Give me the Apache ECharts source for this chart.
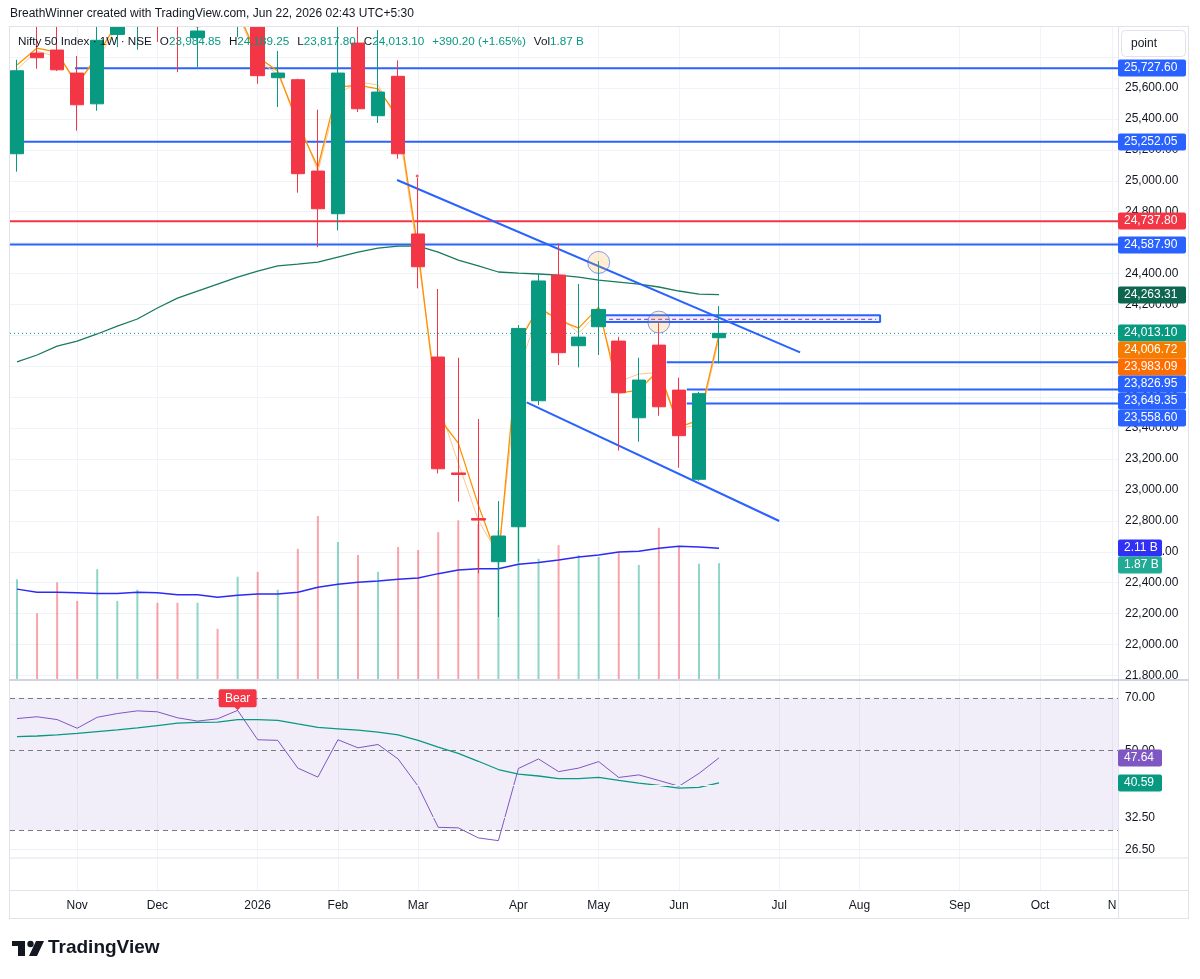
<!DOCTYPE html>
<html><head><meta charset="utf-8">
<script src="https://cdn.jsdelivr.net/npm/echarts@6/dist/echarts.min.js"></script>
<style>html,body{margin:0;padding:0;background:#fff}#c{width:1200px;height:979px}</style>
</head><body><div id="c"></div>
<script>
// ---------- DATA ----------
const weeks = ['2025-10-13','2025-10-20','2025-10-27','2025-11-03','2025-11-10','2025-11-17','2025-11-24','2025-12-01','2025-12-08','2025-12-15','2025-12-22','2025-12-29','2026-01-05','2026-01-12','2026-01-19','2026-01-26','2026-02-02','2026-02-09','2026-02-16','2026-02-23','2026-03-02','2026-03-09','2026-03-16','2026-03-23','2026-03-30','2026-04-06','2026-04-13','2026-04-20','2026-04-27','2026-05-04','2026-05-11','2026-05-18','2026-05-25','2026-06-01','2026-06-08','2026-06-15'];
const open  = [25175,25826,25846,25697,25498,25947,26000,26150,26080,25926,26150,26060,26050,25667,25654,25063,24787,25891,25421,25676,24656,23860,23110,22815,22536,22762,23577,24390,23933,24056,23963,23467,23937,23646,23069,23984.85];
const high  = [25783,26010,26000,25807,26050,26150,26200,26250,26200,26050,26250,26250,26150,25840,25660,25460,26000,26020,25975,25779,25018,24300,23855,23459,22928,24067,24395,24595,24332,24481,23991,23855,24082,23726,23635,24189.25];
const low   = [25059,25725,25710,25324,25453,25865,25848,25898,25703,25736,26010,25930,25628,25477,24923,24571,24679,25445,25374,25143,24304,23107,22924,22461,22178,22536,23549,23808,23793,23873,23254,23312,23480,23144,23060,23817.80];
const close = [25712,25796,25718,25492,25909,26080,26100,26050,26020,25969,26080,26150,25680,25697,25046,24819,25697,25466,25574,25175,24444,23137,23100,22805,22702,24045,24352,23888,23989,24168,23629,23711,23538,23351,23622.90,24013.10];
const volumeB = [1.61,1.06,1.56,1.26,1.77,1.26,1.44,1.23,1.23,1.23,0.81,1.65,1.73,1.44,2.10,2.63,2.21,2.00,1.73,2.13,2.08,2.37,2.56,2.50,2.40,2.50,1.94,2.16,2.00,1.97,2.05,1.84,2.44,2.13,1.86,1.87];
const volumeMA = [1.45,1.40,1.40,1.39,1.38,1.38,1.40,1.39,1.36,1.36,1.32,1.35,1.37,1.37,1.40,1.48,1.53,1.56,1.58,1.61,1.63,1.70,1.76,1.78,1.78,1.85,1.88,1.92,1.97,2.00,2.05,2.06,2.11,2.14,2.13,2.11];
const slowMA = [23828,23873,23931,23963,24009,24060,24106,24177,24241,24287,24332,24377,24416,24449,24461,24474,24507,24539,24565,24578,24578,24539,24487,24449,24410,24403,24397,24390,24377,24358,24345,24332,24313,24287,24267,24263.31];
const fastA = [25749,25859,25833,25619,25813,26020,26060,26100,26060,26000,26080,26100,25800,25710,25367,25089,25606,25619,25594,25412,24552,23472,23303,22902,22547,23950,24183,24099,24047,24183,23627,23646,23776,23407,23452,24006.72];
const fastB = [25720,25840,25800,25650,25780,26000,26040,26080,26050,25990,26060,26080,25780,25690,25400,25060,25560,25640,25620,25380,24500,23560,23174,22805,22579,23776,24144,24130,24015,24150,23700,23750,23760,23400,23420,23983.09];
const rsi   = [61.3,62.0,60.9,57.6,61.8,63.3,64.4,64.0,61.6,60.3,61.2,64.6,53.5,53.3,44.6,42.1,53.5,50.8,51.9,47.3,39.7,30.5,30.4,28.5,28.0,44.5,47.3,43.6,44.6,46.5,42.0,42.7,41.2,39.7,43.1,47.64];
const rsiMA = [54.6,54.8,55.2,55.7,56.4,57.0,57.7,58.6,59.5,59.8,59.9,60.9,60.9,60.6,59.2,57.9,57.4,56.9,56.2,55.2,53.3,51.0,49.0,46.6,44.2,42.9,42.4,41.7,41.7,42.0,41.2,40.5,39.9,39.2,39.4,40.59];
const monthTicks  = [3,7,12,16,20,25,29,33,38,42,47,51,54.6];
const monthLabels = ['Nov','Dec','2026','Feb','Mar','Apr','May','Jun','Jul','Aug','Sep','Oct','N'];
const priceTicks = [21800,22000,22200,22400,22600,22800,23000,23200,23400,23600,23800,24000,24200,24400,24600,24800,25000,25200,25400,25600,25800];
const priceLabelTicks = [21800,22000,22200,22400,22600,22800,23000,23200,23400,23600,23800,24000,24200,24400,24600,24800,25000,25200,25400,25600];
const rsiTicks = [26.5,32.5,40,50,70];
const rsiBands = [30,50,70];
// drawings (anchors in week-index / price space)
const levels = [
  {value:25727.60, start:2.89,  color:'#2962FF'},
  {value:25252.05, start:null,  color:'#2962FF'},
  {value:24737.80, start:null,  color:'#F23645'},
  {value:24587.90, start:null,  color:'#2962FF'},
  {value:23826.95, start:32.39, color:'#2962FF'},
  {value:23649.35, start:33.39, color:'#2962FF'},
  {value:23558.60, start:33.39, color:'#2962FF'}
];
const trendUpper = [[18.95,25005],[39.04,23890]];
const trendLower = [[25.41,23567],[38.0,22799]];
const boxX = [29.32,43.03];
const boxY = [24086,24131];
const boxMid = 24104;
const circles = [[29,24472],[32,24086]];
const signalDots = [[19.95,25031]];
const bearIndex = 11;

// ---------- LAYOUT ----------
const XMIN = -0.349, XMAX = 54.89;
const FONT = 'Liberation Sans, Arial, sans-serif';
const TEAL = '#089981', RED = '#F23645', BLUE = '#2962FF', DARK = '#131722';
const fmt = v => v.toLocaleString('en-US',{minimumFractionDigits:2,maximumFractionDigits:2});
const N = weeks.length;
const idx = weeks.map((_,i)=>i);

const chart = echarts.init(document.getElementById('c'), null, {renderer:'canvas'});

function xAxisCfg(grid, showLabel){
  return {type:'value', gridIndex:grid, min:XMIN, max:XMAX,
    axisLine:{show: showLabel, lineStyle:{color:'#E0E3EB'}},
    axisTick:{show:false, customValues:monthTicks},
    splitLine:{show:true, lineStyle:{color:'#F0F3FA', width:1}},
    axisLabel:{show:showLabel, customValues:monthTicks, color:DARK, fontSize:12, fontFamily:FONT, margin:10,
      formatter:v=>{const k=monthTicks.findIndex(t=>Math.abs(t-v)<1e-6);return k>=0?monthLabels[k]:'';}}};
}

const lineS = (name, data, color, width, z, extra) => Object.assign({
  name, type:'line', data, symbol:'none', showSymbol:false, silent:true, z,
  lineStyle:{color, width}, itemStyle:{color}, clip:true
}, extra||{});

const series = [];
series.push({type:'bar', xAxisIndex:0, yAxisIndex:1, barWidth:2, z:1, silent:true,
  data: idx.map(i=>({value:[i, volumeB[i]], itemStyle:{color: close[i]>=open[i] ? 'rgba(34,171,148,0.5)' : 'rgba(242,54,69,0.45)'}}))});
series.push(lineS('volMA', idx.map(i=>[i,volumeMA[i]]), '#2B2BF5', 1.5, 2, {xAxisIndex:0,yAxisIndex:1}));
levels.forEach(l=>{
  series.push(lineS('lvl', [[l.start==null?XMIN:l.start, l.value],[XMAX, l.value]], l.color, 2, 2, {xAxisIndex:0,yAxisIndex:0}));
});
series.push(lineS('last', [[XMIN, close[N-1]],[XMAX, close[N-1]]], TEAL, 1, 2, {xAxisIndex:0,yAxisIndex:0, lineStyle:{color:TEAL,width:1,type:[1,3]}}));
series.push(lineS('box', [[boxX[0],boxY[1]],[boxX[1],boxY[1]],[boxX[1],boxY[0]],[boxX[0],boxY[0]],[boxX[0],boxY[1]]], BLUE, 2, 2,
  {xAxisIndex:0,yAxisIndex:0, markArea:{silent:true, itemStyle:{color:'rgba(41,98,255,0.08)'}, data:[[{coord:[boxX[0],boxY[1]]},{coord:[boxX[1],boxY[0]]}]]}}));
series.push(lineS('boxMid', [[boxX[0]+0.2,boxMid],[boxX[1]-0.2,boxMid]], '#9C27B0', 1, 2, {xAxisIndex:0,yAxisIndex:0, lineStyle:{color:'#9C27B0',width:1,type:[4,3]}}));
series.push(lineS('slowMA', idx.map(i=>[i,slowMA[i]]), '#197A5E', 1.3, 2, {xAxisIndex:0,yAxisIndex:0}));
series.push(lineS('fastB', idx.map(i=>[i,fastB[i]]), '#FFC58A', 1, 2, {xAxisIndex:0,yAxisIndex:0}));
series.push(lineS('fastA', idx.map(i=>[i,fastA[i]]), '#FF9100', 1.3, 2, {xAxisIndex:0,yAxisIndex:0}));
series.push(lineS('tu', trendUpper, BLUE, 2, 2, {xAxisIndex:0,yAxisIndex:0}));
series.push(lineS('tl', trendLower, BLUE, 2, 2, {xAxisIndex:0,yAxisIndex:0}));
series.push({type:'candlestick', xAxisIndex:0, yAxisIndex:0, barWidth:14, z:3, silent:true, clip:true,
  data: idx.map(i=>[i, open[i], close[i], low[i], high[i]]),
  itemStyle:{color:TEAL, color0:RED, borderColor:TEAL, borderColor0:RED, borderWidth:1}});
series.push({type:'scatter', xAxisIndex:0, yAxisIndex:0, z:5, silent:true, symbolSize:22, data:circles,
  itemStyle:{color:'rgba(255,167,38,0.25)', borderColor:'rgba(41,98,255,0.75)', borderWidth:1}});
series.push({type:'scatter', xAxisIndex:0, yAxisIndex:0, z:5, silent:true, symbolSize:3, data:signalDots, itemStyle:{color:RED}});
series.push(lineS('rsi', idx.map(i=>[i,rsi[i]]), '#7E57C2', 1, 3, {xAxisIndex:1, yAxisIndex:2,
  markArea:{silent:true, itemStyle:{color:'rgba(126,87,194,0.1)'}, data:[[{yAxis:rsiBands[0]},{yAxis:rsiBands[2]}]]},
  markLine:{silent:true, symbol:['none','none'], animation:false,
    data: [
      ...rsiBands.map(b=>({yAxis:b, lineStyle:{color:'#787B86', width:1, type:[5,4]},
         label:{show: b!==30, position:'end', distance:7, formatter: fmt(b), color:DARK, fontSize:12, fontFamily:FONT}})),
      ...rsiTicks.filter(t=>rsiBands.indexOf(t)<0).map(t=>({yAxis:t, lineStyle:{color:'#EEF0F5', width:1, type:'solid'},
         label:{show:true, position:'end', distance:7, formatter: fmt(t), color:DARK, fontSize:12, fontFamily:FONT}}))
    ]},
  markPoint:{silent:true, data:[{coord:[bearIndex, rsi[bearIndex]], value:'Bear'}],
    symbol:'path://M2,0 H36 Q38,0 38,2 V16 Q38,18 36,18 H22 L19,21 L16,18 H2 Q0,18 0,16 V2 Q0,0 2,0 Z',
    symbolSize:[38,21], symbolOffset:[0,'-50%'], itemStyle:{color:RED},
    label:{show:true, formatter:'Bear', color:'#fff', fontSize:12, fontFamily:FONT, offset:[0,-1.5]}}
}));
series.push(lineS('rsiMA', idx.map(i=>[i,rsiMA[i]]), '#089981', 1.3, 3, {xAxisIndex:1, yAxisIndex:2}));

const option = {
  animation:false,
  backgroundColor:'#fff',
  grid:[
    {left:10, top:27, width:1108, height:652},
    {left:10, top:681, width:1108, height:177},
    {left:10, top:858, width:1108, height:32}
  ],
  xAxis:[xAxisCfg(0,false), xAxisCfg(1,false), xAxisCfg(2,true)],
  yAxis:[
    {type:'value', gridIndex:0, position:'right', min:21777, max:25995, scale:true,
      axisLine:{show:false}, axisTick:{show:false, customValues:priceTicks},
      splitLine:{show:true, lineStyle:{color:'#F0F3FA'}},
      axisLabel:{customValues:priceLabelTicks, formatter:v=>fmt(v), color:DARK, fontSize:12, fontFamily:FONT, margin:7}},
    {type:'value', gridIndex:0, min:0, max:10.52, show:false},
    {type:'log', gridIndex:1, logBase:10, min:25.05, max:78.0, show:false},
    {type:'value', gridIndex:2, min:0, max:1, show:false}
  ],
  series
};
chart.setOption(option);

// ---------- overlays ----------
const g = [];
g.push({type:'rect', z:55, silent:true, shape:{x:0,y:0,width:1200,height:26}, style:{fill:'#fff'}});
const frameColor = '#E0E3EB';
const hline = (y,x1,x2,c,w)=>({type:'line', z:56, silent:true, shape:{x1,y1:y,x2,y2:y}, style:{stroke:c||frameColor, lineWidth:w||1}});
const vline = (x,y1,y2,c)=>({type:'line', z:56, silent:true, shape:{x1:x,y1,x2:x,y2}, style:{stroke:c||frameColor, lineWidth:1}});
g.push(hline(26.5,9,1189), hline(918.5,9,1189), vline(9.5,27,918), vline(1188.5,27,918), vline(1118.5,27,918));
g.push(hline(680,9,1189,'#D1D4DC',2), hline(858,9,1189), hline(890.5,9,1189));
g.push({type:'text', z:60, x:10, y:14, style:{text:'BreathWinner created with TradingView.com, Jun 22, 2026 02:43 UTC+5:30', fill:DARK, font:'12px '+FONT, verticalAlign:'middle'}});
// legend (sequential layout)
const last = N-1, chg = close[last]-close[last-1], pct = chg/close[last-1]*100;
const LF = '11.7px '+FONT;
const mctx = document.createElement('canvas').getContext('2d'); mctx.font = LF;
const tw = s => mctx.measureText(s).width;
const legendParts = [
  [['Nifty 50 Index · 1W · NSE', DARK]],
  [['O', DARK],[fmt(open[last]), TEAL]],
  [['H', DARK],[fmt(high[last]), TEAL]],
  [['L', DARK],[fmt(low[last]), TEAL]],
  [['C', DARK],[fmt(close[last]), TEAL]],
  [[(chg>=0?'+':'')+fmt(chg)+' ('+(chg>=0?'+':'')+pct.toFixed(2)+'%)', TEAL]],
  [['Vol', DARK],[volumeB[last].toFixed(2)+' B', TEAL]]
];
let lx = 18;
legendParts.forEach(grp=>{
  grp.forEach(([s,c])=>{
    g.push({type:'text', z:60, x:lx, y:42, style:{text:s, fill:c, font:LF, verticalAlign:'middle'}});
    lx += tw(s);
  });
  lx += 8;
});
g.push({type:'rect', z:60, shape:{x:1121.5,y:30.5,width:64,height:26,r:4}, style:{fill:'#fff', stroke:'#E0E3EB', lineWidth:1}});
g.push({type:'text', z:61, x:1131, y:43.5, style:{text:'point', fill:DARK, font:'12px '+FONT, verticalAlign:'middle'}});
g.push({type:'rect', z:60, shape:{x:12,y:941,width:13,height:5}, style:{fill:DARK}});
g.push({type:'rect', z:60, shape:{x:18,y:941,width:7,height:15}, style:{fill:DARK}});
g.push({type:'circle', z:60, shape:{cx:30.5,cy:944,r:3.2}, style:{fill:DARK}});
g.push({type:'polygon', z:60, shape:{points:[[36,941],[44,941],[37,956],[29,956]]}, style:{fill:DARK}});
g.push({type:'text', z:60, x:48, y:948, style:{text:'TradingView', fill:DARK, font:'bold 19px '+FONT, verticalAlign:'middle'}});

function stackTags(tags, h){
  tags.sort((a,b)=>a.y-b.y);
  let prev = -1e9;
  tags.forEach(t=>{ if(t.y < prev + h) t.y = prev + h; prev = t.y; });
  return tags;
}
const px = (xi, yi, v) => chart.convertToPixel({xAxisIndex:xi, yAxisIndex:yi}, [last, v])[1];
const mainTags = [];
levels.slice(0,4).forEach(l=>mainTags.push({y:px(0,0,l.value), text:fmt(l.value), color:l.color, w:68}));
mainTags.push({y:px(0,0,slowMA[last]), text:fmt(slowMA[last]), color:'#0E6650', w:68});
mainTags.push({y:px(0,0,close[last]), text:fmt(close[last]), color:TEAL, w:68});
mainTags.push({y:px(0,0,fastA[last]), text:fmt(fastA[last]), color:'#F57C00', w:68});
mainTags.push({y:px(0,0,fastB[last]), text:fmt(fastB[last]), color:'#FF6D00', w:68});
levels.slice(4).forEach(l=>mainTags.push({y:px(0,0,l.value), text:fmt(l.value), color:l.color, w:68}));
mainTags.push({y:px(0,1,volumeMA[last]), text:volumeMA[last].toFixed(2)+' B', color:'#3131F5', w:44});
mainTags.push({y:px(0,1,volumeB[last]), text:volumeB[last].toFixed(2)+' B', color:'#22AB94', w:44});
const rsiTags = [
  {y:px(1,2,rsi[last]), text:fmt(rsi[last]), color:'#7E57C2', w:44},
  {y:px(1,2,rsiMA[last]), text:fmt(rsiMA[last]), color:TEAL, w:44}
];
stackTags(mainTags,17).concat(stackTags(rsiTags,17)).forEach(t=>{
  g.push({type:'rect', z:70, shape:{x:1118, y:Math.round(t.y)-8.5, width:t.w, height:17, r:2}, style:{fill:t.color}});
  g.push({type:'text', z:71, x:1124, y:Math.round(t.y), style:{text:t.text, fill:'#fff', font:'12px '+FONT, verticalAlign:'middle'}});
});
chart.setOption({graphic:g});
</script></body></html>
